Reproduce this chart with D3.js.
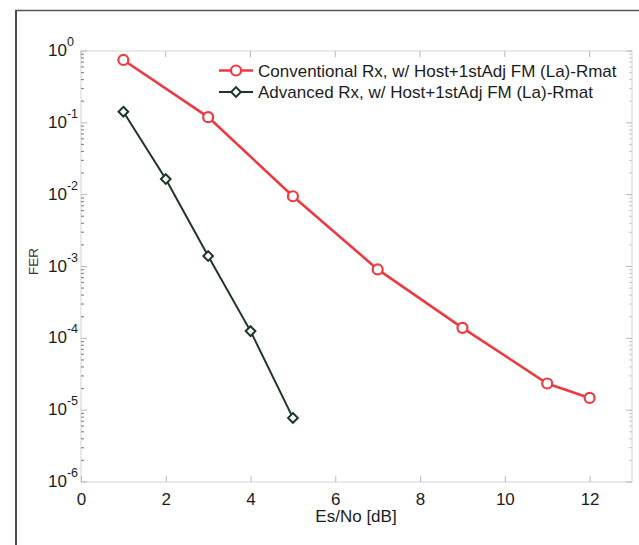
<!DOCTYPE html>
<html>
<head>
<meta charset="utf-8">
<script src="https://cdn.jsdelivr.net/npm/d3@7"></script>
<style>
  html, body { margin: 0; padding: 0; background: #fff; }
  svg { display: block; font-family: "Liberation Sans", Arial, sans-serif; }
</style>
</head>
<body>
<svg id="chart" width="639" height="545"></svg>
<script>
// FER vs Es/No for two receivers
const esNoConv = [1, 3, 5, 7, 9, 11, 12];
const ferConv  = [0.75, 0.12, 0.0095, 9.1e-4, 1.4e-4, 2.35e-5, 1.48e-5];
const esNoAdv  = [1, 2, 3, 4, 5];
const ferAdv   = [0.143, 0.0165, 1.4e-3, 1.26e-4, 7.8e-6];
const xTicks = [0, 2, 4, 6, 8, 10, 12];
const yExponents = [0, -1, -2, -3, -4, -5, -6];
const seriesNames = [
  "Conventional Rx, w/ Host+1stAdj FM (La)-Rmat",
  "Advanced Rx, w/ Host+1stAdj FM (La)-Rmat"
];

const red = "#ec3a40";
const dark = "#1f3527";
const axisGray = "#b8b8b8";
const textColor = "#1c1c1c";
const fontSize = 17;

const svg = d3.select("#chart");
const margin = { left: 81, right: 632, top: 51, bottom: 482 };

const x = d3.scaleLinear().domain([0, 13]).range([margin.left, margin.right]);
const y = d3.scaleLog().domain([1e-6, 1]).range([margin.bottom, margin.top]);

// outer figure frame
svg.append("line").attr("x1", 16).attr("x2", 16).attr("y1", 10).attr("y2", 545)
  .attr("stroke", "#4a4a4a").attr("stroke-width", 2);
svg.append("line").attr("x1", 15).attr("x2", 639).attr("y1", 10.5).attr("y2", 10.5)
  .attr("stroke", "#555").attr("stroke-width", 1.5);

// plot box
svg.append("rect")
  .attr("x", margin.left).attr("y", margin.top)
  .attr("width", margin.right - margin.left).attr("height", margin.bottom - margin.top)
  .attr("fill", "none").attr("stroke", "#d4d4d4").attr("stroke-width", 1);

// log minor ticks on left and right edges
const minorVals = [];
for (let e = -6; e < 0; e++) {
  for (let m = 2; m <= 9; m++) minorVals.push(m * Math.pow(10, e));
}
const minorG = svg.append("g");
minorVals.forEach(v => {
  minorG.append("line").attr("x1", margin.left).attr("x2", margin.left + 3)
    .attr("y1", y(v)).attr("y2", y(v)).attr("stroke", "#8a8a8a").attr("stroke-width", 1.2);
  minorG.append("line").attr("x1", margin.right).attr("x2", margin.right - 3)
    .attr("y1", y(v)).attr("y2", y(v)).attr("stroke", "#c8c8c8").attr("stroke-width", 1);
});

// major y ticks
yExponents.forEach(e => {
  const yy = y(Math.pow(10, e));
  svg.append("line").attr("x1", margin.left).attr("x2", margin.left + 6)
    .attr("y1", yy).attr("y2", yy).attr("stroke", axisGray);
  svg.append("line").attr("x1", margin.right).attr("x2", margin.right - 6)
    .attr("y1", yy).attr("y2", yy).attr("stroke", axisGray);
});

// x axis with D3 axis generator, ticks pointing inward
const xAxis = d3.axisBottom(x).tickValues(xTicks).tickSize(-6).tickPadding(10).tickFormat(d3.format("d"));
const gx = svg.append("g").attr("transform", `translate(0,${margin.bottom})`).call(xAxis);
gx.select(".domain").remove();
gx.selectAll(".tick line").attr("stroke", axisGray);
gx.selectAll(".tick text").attr("font-size", fontSize).attr("fill", textColor)
  .attr("font-family", "Liberation Sans, Arial, sans-serif").attr("dy", "0.75em");
svg.append("g").selectAll("line").data(xTicks).join("line")
  .attr("x1", d => x(d)).attr("x2", d => x(d))
  .attr("y1", margin.top).attr("y2", margin.top + 6).attr("stroke", axisGray);

// y tick labels: 10 with superscript exponent
const yLab = svg.append("g").attr("fill", textColor);
yExponents.forEach(e => {
  const yy = y(Math.pow(10, e));
  const t = yLab.append("text").attr("x", 48).attr("y", yy + 5).attr("font-size", fontSize);
  t.append("tspan").text("10");
  t.append("tspan").attr("dy", -10).attr("font-size", 12.5).text(e === 0 ? "0" : "-" + Math.abs(e));
});

// axis titles
svg.append("text").attr("x", 356).attr("y", 522).attr("text-anchor", "middle")
  .attr("font-size", fontSize).attr("fill", textColor).text("Es/No [dB]");
svg.append("text").attr("transform", `translate(37.5,261.5) rotate(-90)`)
  .attr("text-anchor", "middle").attr("font-size", 13.5).attr("fill", "#333").text("FER");

// series
const line = d3.line().x(d => x(d[0])).y(d => y(d[1]));
const convPts = esNoConv.map((v, i) => [v, ferConv[i]]);
const advPts = esNoAdv.map((v, i) => [v, ferAdv[i]]);

svg.append("path").datum(convPts).attr("d", line)
  .attr("fill", "none").attr("stroke", red).attr("stroke-width", 2.6);
svg.append("g").selectAll("circle").data(convPts).join("circle")
  .attr("cx", d => x(d[0])).attr("cy", d => y(d[1])).attr("r", 5)
  .attr("fill", "#fff").attr("stroke", red).attr("stroke-width", 2.2);

svg.append("path").datum(advPts).attr("d", line)
  .attr("fill", "none").attr("stroke", dark).attr("stroke-width", 2);
const diamond = d3.symbol().type(d3.symbolDiamond2).size(60);
svg.append("g").selectAll("path").data(advPts).join("path")
  .attr("transform", d => `translate(${x(d[0])},${y(d[1])})`)
  .attr("d", diamond).attr("fill", "#fff").attr("stroke", dark).attr("stroke-width", 2);

// legend
const legend = svg.append("g");
const legendRows = [
  { name: seriesNames[0], color: red, marker: "circle", y: 70.5 },
  { name: seriesNames[1], color: dark, marker: "diamond", y: 92 }
];
legendRows.forEach(r => {
  legend.append("line").attr("x1", 219).attr("x2", 253).attr("y1", r.y).attr("y2", r.y)
    .attr("stroke", r.color).attr("stroke-width", r.marker === "circle" ? 2.6 : 2);
  if (r.marker === "circle") {
    legend.append("circle").attr("cx", 236).attr("cy", r.y).attr("r", 5)
      .attr("fill", "#fff").attr("stroke", r.color).attr("stroke-width", 2.2);
  } else {
    legend.append("path").attr("transform", `translate(236,${r.y})`).attr("d", diamond)
      .attr("fill", "#fff").attr("stroke", r.color).attr("stroke-width", 2);
  }
  legend.append("text").attr("x", 258).attr("y", r.y + 6).attr("font-size", fontSize)
    .attr("fill", textColor).text(r.name);
});
</script>
</body>
</html>
